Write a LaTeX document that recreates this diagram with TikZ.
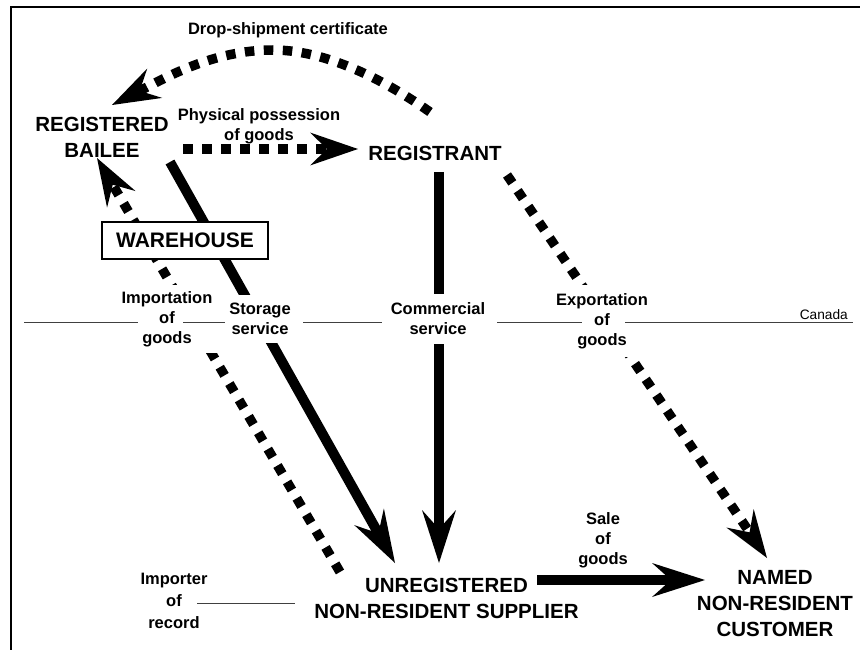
\documentclass[tikz,border=0pt]{standalone}
\usepackage{fontspec}
\setmainfont{Liberation Sans}
\usetikzlibrary{arrows.meta,calc}
\begin{document}
\begin{tikzpicture}[x=1pt,y=-1pt,
  big/.style={font=\fontsize{20.5}{26}\selectfont\bfseries, align=center, inner sep=0pt},
  lbl/.style={font=\fontsize{16.5}{20}\selectfont\bfseries, align=center, inner sep=0pt},
  masked/.style={fill=white, inner sep=#1},
  bound/.style={line width=1pt, draw=black!75},
  frameline/.style={line width=2.2pt},
  solidarrow/.style={line width=10pt, -{Stealth[length=53pt,width=34pt,inset=19pt,line width=0pt]}},
  dotarrow/.style={line width=9.5pt, dash pattern=on 9.5pt off 9.5pt, -{Stealth[length=48pt,width=33pt,inset=17pt,line width=0pt]}},
  boxed/.style={draw, line width=2pt, fill=white, minimum width=166pt, minimum height=37pt, inner sep=0pt, font=\fontsize{21}{25}\selectfont\bfseries},
]
\useasboundingbox (0,0) rectangle (860,650);
% frame
\draw[frameline] (11,652) -- (11,7) -- (862,7);

% entity nodes
\node[big] (bailee) at (102,137) {REGISTERED\\BAILEE};
\node[big] (registrant) at (435,153) {REGISTRANT};
\node[big] (supplier) at (446.5,598) {UNREGISTERED\\NON-RESIDENT SUPPLIER};
\node[big] (customer) at (775,604) {NAMED\\NON-RESIDENT\\CUSTOMER};

% connectors
\draw[dotarrow] ($(registrant)+(-5,-41)$) .. controls (396,88) and (333,50) .. (273,50)
   .. controls (213,50) and (165,78) .. ($(bailee)+(10,-32)$);
\draw[dotarrow] ($(bailee)+(81,12)$) -- ($(registrant)+(-77,-4)$);
\draw[solidarrow] ($(registrant)+(4,19)$) -- ($(supplier)+(-7.5,-35)$);
\draw[dotarrow] ($(registrant)+(72,22)$) -- ($(customer)+(-8,-46)$);
\draw[dotarrow] ($(supplier)+(-106.5,-26)$) -- ($(bailee)+(-5,21)$);
\draw[solidarrow] ($(bailee)+(68,25)$) -- ($(supplier)+(-51.5,-35)$);
\draw[solidarrow] ($(supplier)+(90.5,-18)$) -- ($(customer)+(-70,-24)$);

% warehouse box
\node[boxed] (warehouse) at (185,240) {WAREHOUSE};

% labels
\node[lbl] (droplbl) at (288,30) {Drop-shipment certificate};
\node[lbl] (physlbl) at (259,126) {Physical possession\\of goods};
\node[lbl, masked=6pt] (importlbl) at (167,319) {Importation\\of\\goods};
\node[lbl, masked=8pt] (storagelbl) at (260,319) {Storage\\service};
\node[lbl, masked=9pt] (commlbl) at (438,319) {Commercial\\service};
\node[lbl, masked=8pt] (exportlbl) at (602,321) {Exportation\\of\\goods};
\node[lbl] (salelbl) at (603,540) {Sale\\of\\goods};
\node[lbl, font=\fontsize{16.5}{22}\selectfont\bfseries] (importerlbl) at (174,601) {Importer\\of\\record};
\node[font=\fontsize{13.7}{16}\selectfont, anchor=base east, inner sep=0pt] (canada) at (848,319) {Canada};

% Canada boundary line
\coordinate (cw) at (24,322);
\coordinate (ce) at (853,322);
\draw[bound] (cw) -- (138,322);
\draw[bound] (183,322) -- (225,322);
\draw[bound] (303,322) -- (382,322);
\draw[bound] (497,322) -- (582,322);
\draw[bound] (625,322) -- (ce);
% importer of record line
\draw[bound] (197,603) -- ($(supplier.west)+(-19,5)$);
\end{tikzpicture}
\end{document}
